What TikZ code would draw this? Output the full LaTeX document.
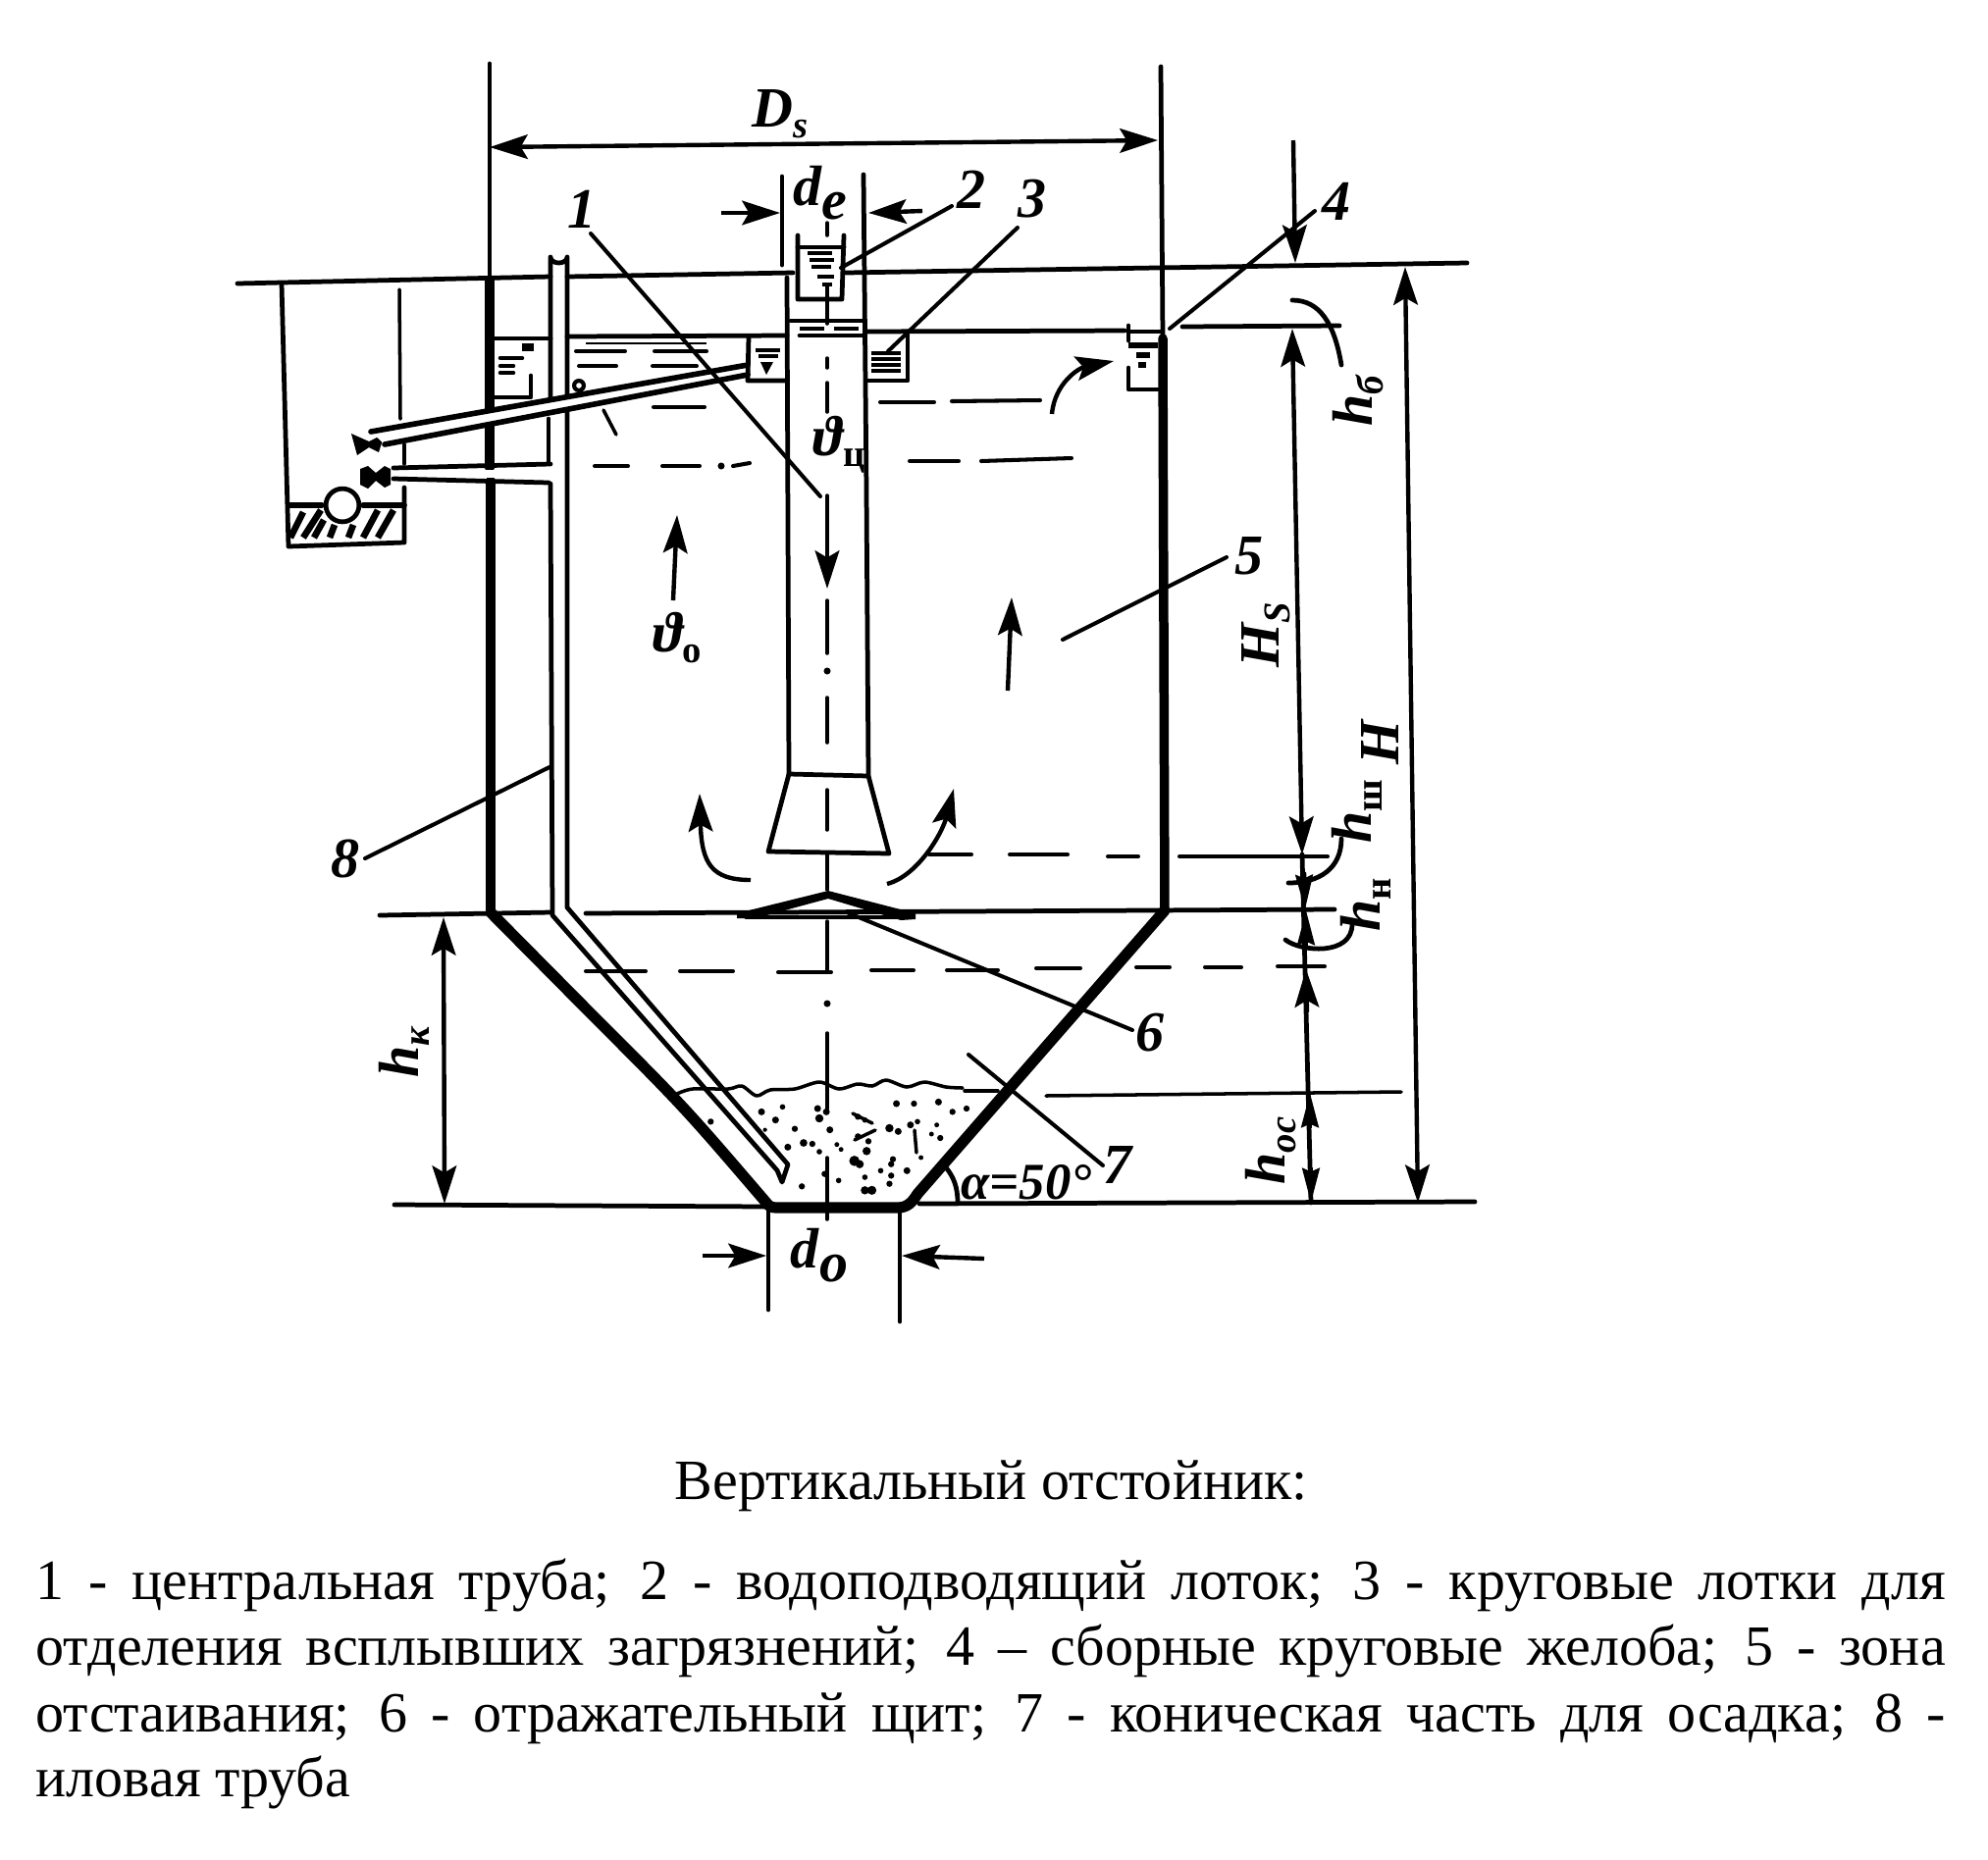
\documentclass[tikz,border=0pt]{standalone}
\usepackage{fontspec}
\setmainfont{Liberation Serif}
\usetikzlibrary{arrows.meta}
\newcommand{\sbs}[1]{\raisebox{-3pt}{\fontsize{11}{11}\selectfont #1}}
\tikzset{
  wall/.style={line width=2.7pt,line cap=round,line join=round},
  cone/.style={line width=3.2pt,line cap=round,line join=round},
  med/.style={line width=1.35pt,line cap=round,line join=round},
  thin line/.style={line width=1pt,line cap=round,line join=round},
  lead/.style={line width=1.15pt,line cap=round},
  ah/.style={-{Stealth[length=11pt,width=7pt,inset=2pt]},line width=1.25pt},
  bh/.style={{Stealth[length=11pt,width=7pt,inset=2pt]}-{Stealth[length=11pt,width=7pt,inset=2pt]},line width=1.25pt},
  nh/.style={-{Stealth[length=10pt,width=5pt,inset=1pt]},line width=1.25pt},
  lab/.style={inner sep=0pt,font=\fontsize{16.5}{18}\selectfont\bfseries\itshape},
  body/.style={inner sep=0pt,anchor=base west,font=\fontsize{16.5}{19}\selectfont}
}
\begin{document}
\begin{tikzpicture}[x=0.01cm,y=-0.01cm]
\useasboundingbox (0,0) rectangle (2026,1896);
% tank walls
\draw[med] (499,65) -- (499,285);
\draw[wall] (499,285) -- (499,477);
\draw[wall] (500,490) -- (500,930);
\draw[cone] (500,930) -- (600,1031) .. controls (697,1128) and (697,1128) .. (781,1226) .. controls (784,1230) and (786,1231) .. (792,1231) -- (915,1231) .. controls (925,1231) and (930,1225) .. (935,1217) -- (1187,928);
\draw[wall] (1187,928) -- (1185,345);
\draw[med] (1183,68) -- (1185,345);
% horizontal levels
\draw[med] (242,289) -- (561,282);
\draw[med] (578,282) -- (808,278);
\draw[med] (862,278) -- (1495,268);
\draw[med] (503,345) -- (561,345);
\draw[med] (578,343) -- (802,342);
\draw[med] (883,338) -- (1146,337);
\draw[med] (1205,333) -- (1365,332);
\draw[med] (387,933) -- (562,930);
\draw[med] (597,931) -- (1360,927);
\draw[med] (402,1228) -- (783,1230);
\draw[med] (937,1227) -- (1503,1225);
\draw[thin line] (1066,1117) -- (1428,1113);
\draw[med] (783,1233) -- (783,1335);
\draw[med] (917,1233) -- (917,1347);
% dashed levels
\foreach \a/\b/\c/\d in {897/410/952/410,970/409/1060/408,927/470/977/470,1000/470/1092/467,
  606/475/640/475,675/475/713/475,747/475/764/472,666/415/718/415,
  947/871/990/871,1029/871/1088/871,1129/873/1160/873,1202/873/1353/873,
  597/990/658/990,693/990/747/990,793/991/847/991,888/989/931/989,965/989/1017/989,
  1056/987/1101/987,1158/986/1192/986,1228/986/1265/986,1302/985/1350/985,
  587/358/637/358,667/358/720/358,590/373/628/373,665/373/710/373}
  \draw[thin line,line width=1.15pt] (\a,\b) -- (\c,\d);
\draw[line width=.7pt] (597,350) -- (720,350);
\fill (735,475) circle[radius=1pt];
\draw[thin line] (615,418) -- (628,443);
% left sump
\draw[med] (287,289) -- (294,557) -- (412,553) -- (412,497);
\draw[thin line] (407,295) -- (408,427);
\draw[thin line] (412,453) -- (412,473);
\draw[wall,line width=1.6pt] (294,515) -- (328,515) (370,515) -- (412,515);
\foreach \a/\b/\c/\d in {296/548/309/522,309/548/327/520,320/548/330/530,336/548/341/535,355/548/360/535,370/548/385/520,385/548/401/520}
  \draw[line width=1.9pt] (\a,\b) -- (\c,\d);
\draw[med,fill=white] (349,515) circle[radius=4.8pt];
% valves
\fill (358,442) -- (376,450) -- (392,442) -- (386,461) -- (376,456) -- (364,464) -- cycle;
\fill (367,478) -- (375,475) -- (383,482) -- (392,475) -- (398,478) -- (398,494) -- (392,497) -- (383,490) -- (375,498) -- (367,494) -- cycle;
% sludge pipe
\draw[med] (561,407) -- (561,262) arc[start angle=180,end angle=0,x radius=8.5,y radius=6] -- (578,925) -- (803,1187) -- (797,1205) -- (792,1193) -- (563,933) -- (561,493);
\draw[med] (559,427) -- (559,470);
\fill[white] (378,440) -- (760,372) -- (760,380) -- (392,453) -- cycle;
\draw[med,line width=1.6pt] (378,440) -- (762,372);
\draw[med,line width=1.6pt] (392,453) -- (762,382);
\fill[white] (401,479) rectangle (561,487);
\draw[med] (401,477) -- (561,473);
\draw[med] (401,488) -- (559,492);
\fill (590,393) circle[radius=2pt];
\fill[white] (590,393) circle[radius=.8pt];
% left box and inner
\draw[med] (503,405) -- (541,405) -- (541,383);
\fill (532,350) rectangle (544,358);
\foreach \a/\b/\c in {510/532/365,510/523/373,510/523/380}
  \draw[wall,line width=1.3pt] (\a,\c) -- (\b,\c);
\draw[med] (763,343) -- (762,388) -- (802,388);
\foreach \a/\b/\c in {770/795/357,773/793/363}
  \draw[line width=1.3pt] (\a,\c) -- (\b,\c);
\fill (775,369) -- (788,369) -- (781,382) -- cycle;
% central pipe
\draw[med] (802,283) -- (804,789) -- (783,868) -- (906,870) -- (885,791) -- (883,500) -- (880,178);
\draw[med] (797,180) -- (797,270);
\draw[med] (804,789) -- (885,791);
% trough 2
\draw[med] (813,240) -- (813,305) -- (858,305) -- (860,240);
\draw[med] (813,252) -- (860,252);
\foreach \a/\b/\c in {823/848/258,825/850/265,827/847/272,833/850/282,838/848/290}
  \draw[line width=1.3pt] (\a,\c) -- (\b,\c);
% collar
\draw[med] (806,327) -- (880,327);
\draw[med] (815,342) -- (880,342);
\draw[line width=1.1pt,dash pattern=on 7pt off 3pt] (815,335) -- (880,335);
% trough 3
\draw[med] (925,338) -- (925,388) -- (884,388);
\foreach \c in {360,366,372,378}
  \draw[line width=1.3pt] (888,\c) -- (918,\c);
% trough 4
\draw[med] (1150,332) -- (1150,347);
\draw[med] (1150,375) -- (1150,397) -- (1183,397);
\draw[med] (1150,338) -- (1184,338);
\draw[line width=1.6pt] (1150,352) -- (1180,352);
\draw[line width=1.6pt] (1158,362) -- (1172,362);
\draw[line width=1.6pt] (1160,372) -- (1168,372);
% axis
\foreach \c/\d in {227/240,290/330,365/375,390/420,505/560,612/666,711/757,805/846,871/907,939/989,1053/1130,1180/1243}
  \draw[thin line] (843,\c) -- (843,\d);
\foreach \c in {684,1023}
  \fill (843,\c) circle[radius=1pt];
% shield
\fill (751,931) -- (844,908) -- (933,931) -- (933,937) -- (918,938) -- (844,916) -- (770,936) -- (751,936) -- cycle;
\draw[thin line] (760,935) -- (920,935);
% flow arrows
\draw[ah] (843,545) -- (843,600);
\draw[ah] (686,612) -- (690,525);
\draw[ah] (1027,704) -- (1031,609);
\draw[ah] (765,897) .. controls (725,897) and (715,880) .. (713,809);
\draw[ah] (904,901) .. controls (935,893) and (960,850) .. (972,804);
\draw[ah] (1072,422) .. controls (1075,390) and (1100,375) .. (1135,368);
% dimension arrows
\draw[bh] (499,150) -- (1180,143);
\draw[ah] (735,217) -- (795,217);
\draw[ah] (940,215) -- (885,217);
\draw[ah] (716,1280) -- (781,1280);
\draw[ah] (1003,1283) -- (919,1280);
\draw[ah] (1318,143) -- (1320,268);
\draw[bh] (1317,335) -- (1327,871);
\draw[med] (1327,871) -- (1336,1226);
\draw[nh] (1329,889) -- (1330,927);
\draw[nh] (1331,964) -- (1331,928);
\draw[ah] (1332,1032) -- (1331,988);
\draw[nh] (1335,1150) -- (1335,1114);
\draw[nh] (1336,1190) -- (1336,1226);
\draw[bh] (1432,272) -- (1445,1226);
\draw[bh] (452,935) -- (453,1227);
% dim leaders and arcs
\draw[med] (1317,306) .. controls (1345,306) and (1360,330) .. (1367,372);
\draw[med] (1313,900) .. controls (1345,900) and (1367,885) .. (1367,855);
\draw[med] (1310,958) .. controls (1325,970) and (1378,975) .. (1378,942);
\draw[med] (964,1190) .. controls (972,1200) and (976,1210) .. (976,1226);
% leaders
\draw[lead] (602,238) -- (836,506);
\draw[lead] (970,210) -- (857,273);
\draw[lead] (1037,232) -- (905,358);
\draw[lead] (1340,215) -- (1192,335);
\draw[lead] (1083,652) -- (1250,568);
\draw[lead] (863,930) -- (1154,1050);
\draw[lead] (987,1075) -- (1124,1188);
\draw[lead] (560,782) -- (372,875);
% sediment
\draw[thin line] plot[smooth] coordinates {(690,1115) (706,1110) (742,1110) (756,1107) (771,1117) (785,1111) (810,1110) (835,1103) (855,1110) (874,1105) (889,1107) (903,1101) (924,1108) (942,1103) (964,1108) (981,1109)};
\draw[thin line] (983,1112) -- (1017,1112);
\foreach \a/\b/\r in {180/340/.9,325/310/1,385/295/.8,365/335/1,335/365/.6,420/362/.9,400/418/1,445/405/1.1,470/408/.9,490/432/.8,485/300/1,490/330/1.2,520/365/1,510/310/1,540/410/.7,552/425/.7,505/500/.9,545/520/.8,440/538/.9,600/325/.9,620/335/.8,600/385/.9,630/400/.9,590/460/1.5,605/470/1.2,625/430/1.2,690/360/1.2,715/370/1,750/350/1,770/340/.8,835/390/.9,825/350/.7,810/378/.7,760/285/.9,710/285/1,830/280/1,870/310/.9,910/300/.9,700/455/.9,695/470/.9,665/490/.8,695/505/.9,740/490/1,690/530/.9,620/510/.8,640/550/1.3,620/550/1.2,780/450/.7}
  \fill ({660+\a/2.8},{1030+\b/3}) circle[radius=\r pt];
\draw[thin line] (869,1135) -- (889,1145);
\draw[thin line] (871,1162) -- (892,1152);
\draw[thin line] (932,1152) -- (934,1175);
% labels
\node[lab] (ds) at (795,116) {D\sbs{s}};
\node[lab] (de) at (836,197) {d\raisebox{-4pt}{e}};
\node[lab] (do) at (835,1280) {d\raisebox{-4pt}{o}};
\node[lab] (vc) at (855,453) {ϑ\sbs{\upshape ц}};
\node[lab] (vo) at (690,650) {ϑ\sbs{\upshape о}};
\node[lab] (n1) at (593,213) {1};
\node[lab] (n2) at (990,193) {2};
\node[lab] (n3) at (1052,203) {3};
\node[lab] (n4) at (1362,205) {4};
\node[lab] (n5) at (1273,567) {5};
\node[lab] (n6) at (1172,1053) {6};
\node[lab] (n7) at (1139,1187) {7};
\node[lab] (n8) at (352,875) {8};
\node[lab,font=\fontsize{15}{18}\selectfont\bfseries\itshape] (alpha) at (1046,1205) {α=50°};
\node[lab,rotate=90] (hb) at (1384,409) {h\sbs{б}};
\node[lab,rotate=90] (hs) at (1290,647) {H\sbs{S}};
\node[lab,rotate=90] (hh) at (1406,757) {H};
\node[lab,rotate=90] (hsh) at (1383,827) {h\sbs{\upshape ш}};
\node[lab,rotate=90] (hn) at (1392,922) {h\sbs{\upshape н}};
\node[lab,rotate=90] (hoc) at (1295,1173) {h\sbs{ос}};
\node[lab,rotate=90] (hk) at (412,1073) {h\sbs{к}};
% caption
\node[inner sep=0pt,anchor=base,font=\fontsize{16.5}{19}\selectfont] (cap) at (1010,1528) {Вертикальный отстойник:};
\node[body] (l1) at (36,1630) {\makebox[1946\dimexpr 0.01cm\relax][s]{1 - центральная труба; 2 - водоподводящий лоток; 3 - круговые лотки для}};
\node[body] (l2) at (36,1697) {\makebox[1946\dimexpr 0.01cm\relax][s]{отделения всплывших загрязнений; 4 – сборные круговые желоба; 5 - зона}};
\node[body] (l3) at (36,1765) {\makebox[1946\dimexpr 0.01cm\relax][s]{отстаивания; 6 - отражательный щит; 7 - коническая часть для осадка; 8 -}};
\node[body] (l4) at (36,1831) {иловая труба};
\end{tikzpicture}
\end{document}
